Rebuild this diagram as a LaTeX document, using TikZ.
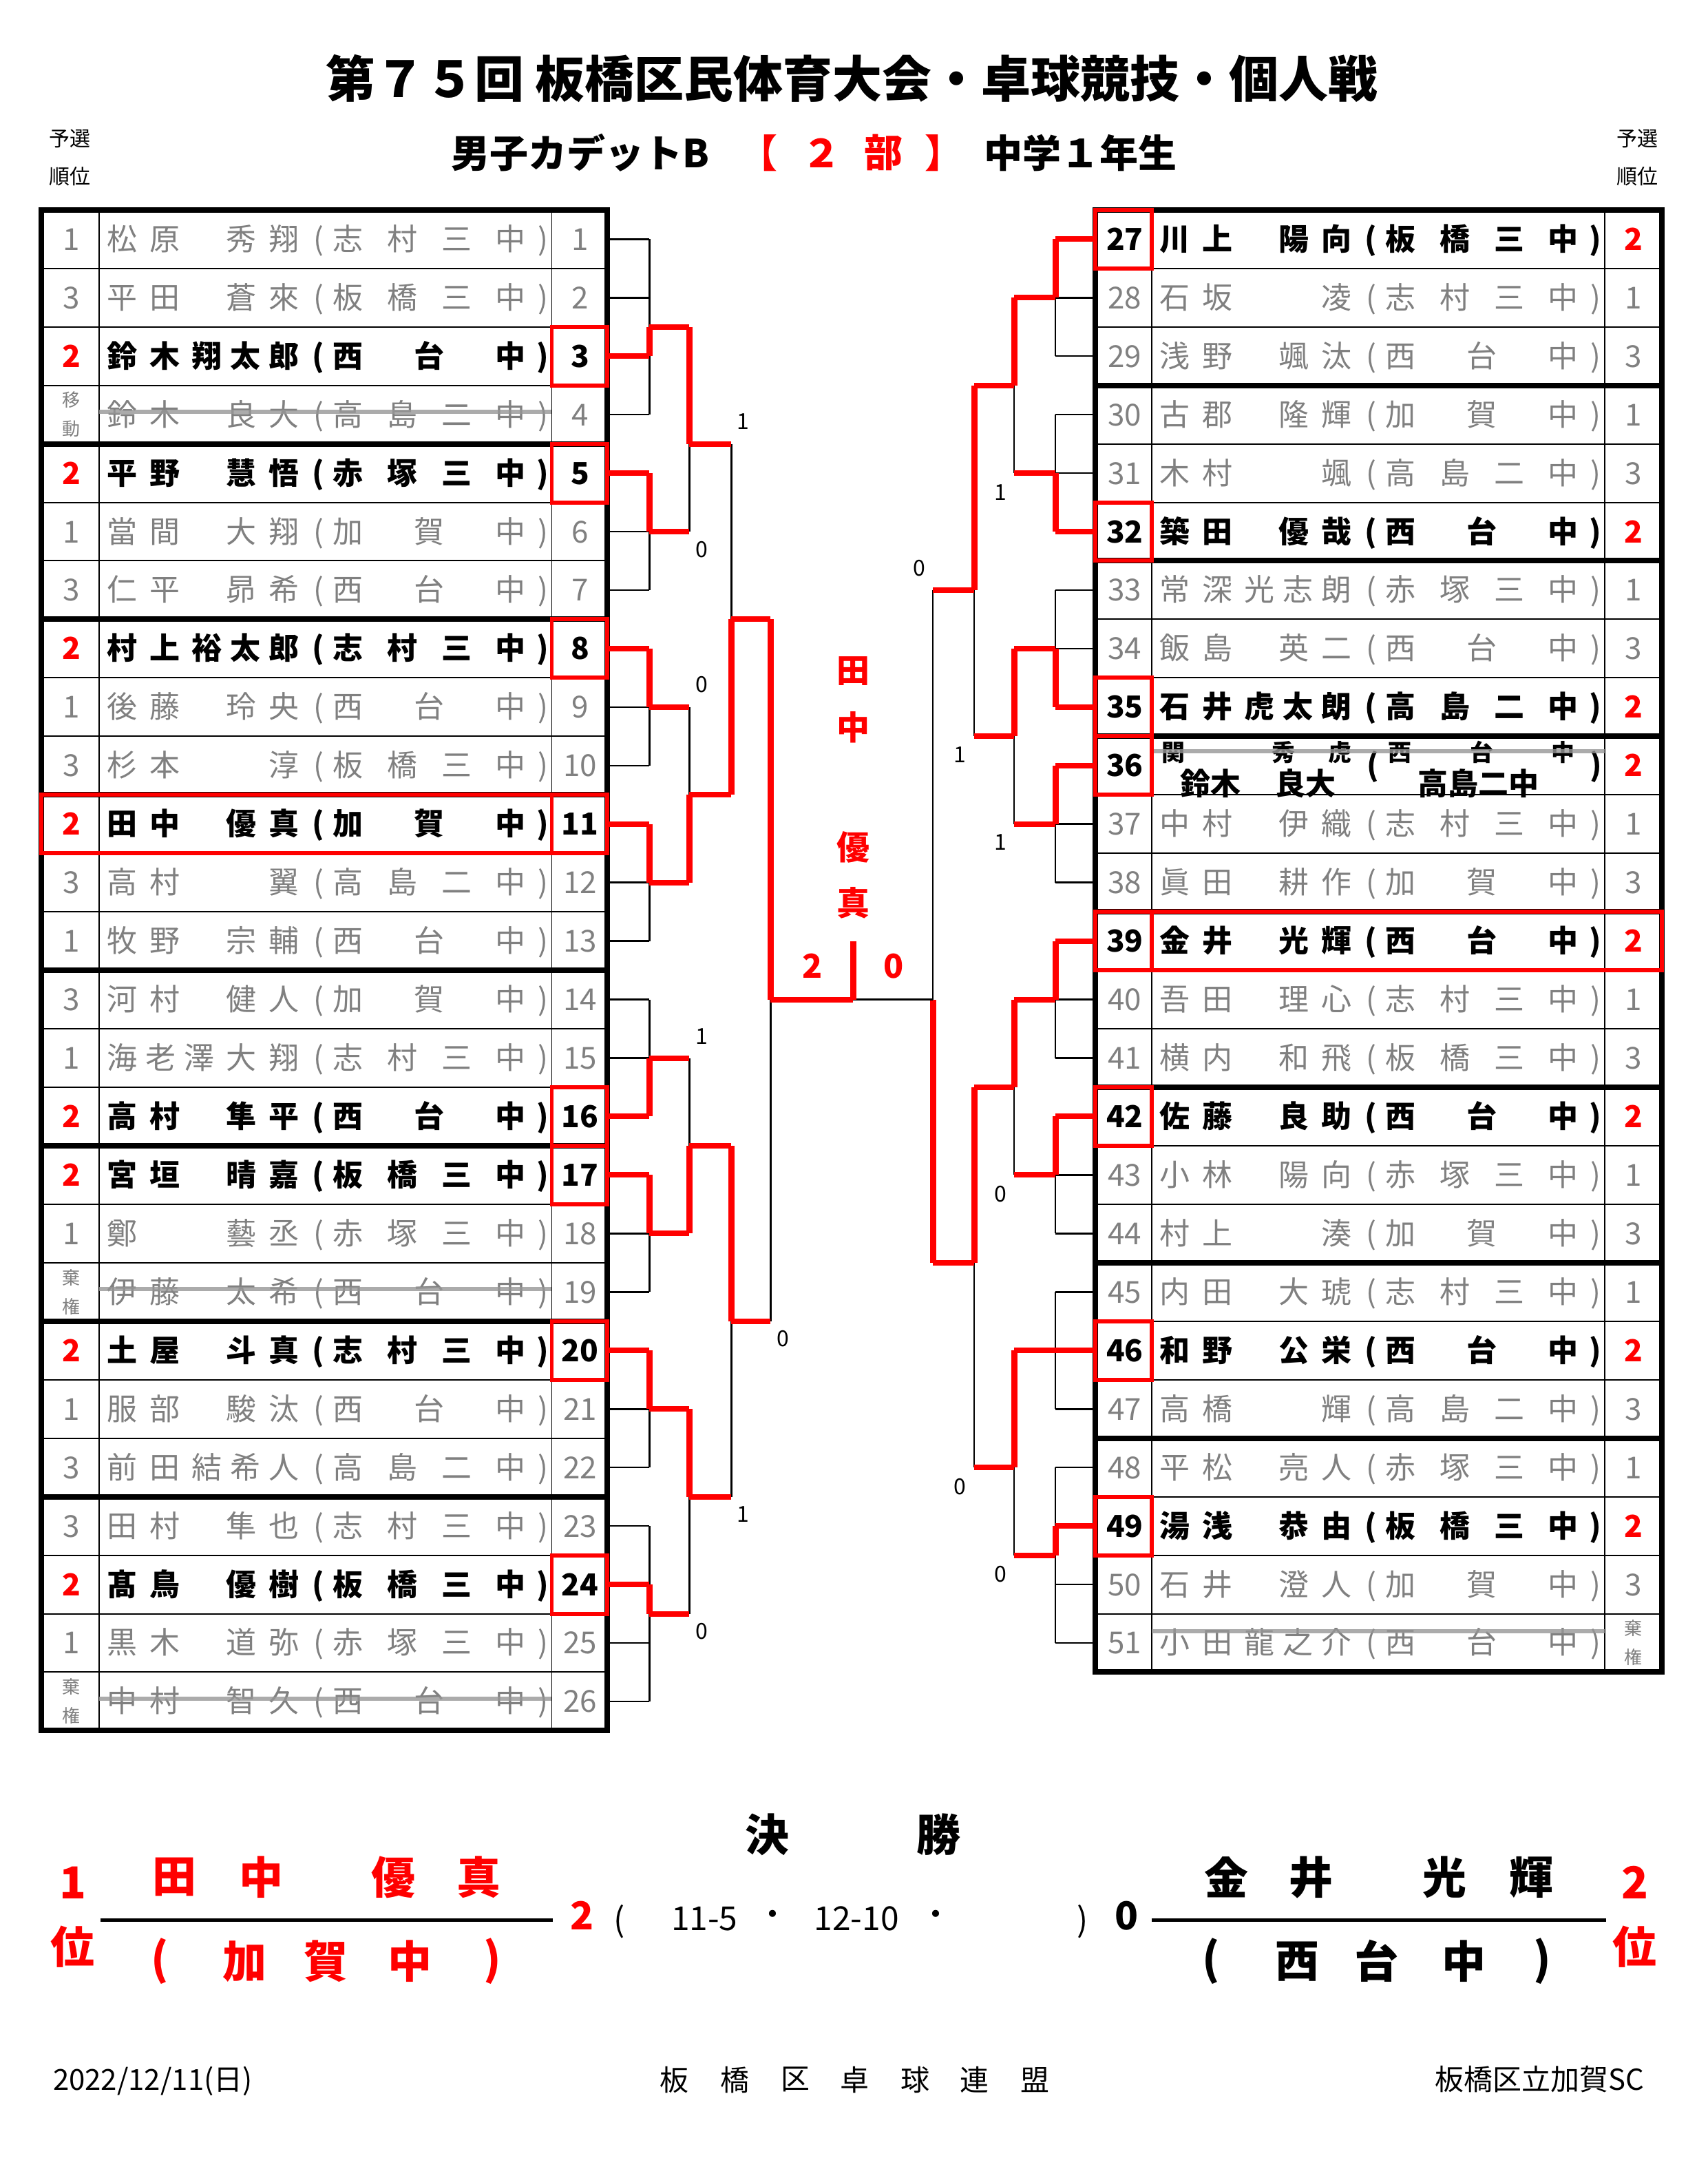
\documentclass[tikz,border=0pt]{standalone}
\usepackage{fontspec}
\newfontfamily\jp{Noto Sans CJK JP}
\definecolor{gtext}{RGB}{128,128,128}
\definecolor{strk}{RGB}{150,150,150}

% spread the characters of a name over fixed cells
\newlength\chw
\newcount\nch
\def\cntloop#1{\ifx#1\relax\else\advance\nch by 1 \expandafter\cntloop\fi}
\def\spr#1{\ifx#1\relax\else\makebox[\chw]{#1}\expandafter\spr\fi}
\def\schtwo#1#2{\makebox[\chw]{#1}\kern.5\chw\makebox[\chw]{#2}}
\newcommand\setchw[1]{\nch=0 \expandafter\cntloop#1\relax
  \ifnum\nch>2 \chw=28pt\else\chw=31pt\fi}
\newcommand\schl[1]{\nch=0 \expandafter\cntloop#1\relax\chw=39.5pt\kern-.5\chw
  \ifnum\nch=3 \expandafter\spr#1\relax\else\expandafter\schtwo#1\fi}
% one entry: name column x, row k, style, surname, given name, school, id
\newcommand\prow[7]{%
  \node[#3,anchor=west] (#7-s) at (#1+16.7,#2) {\setchw{#4}\kern-.5\chw\expandafter\spr#4\relax};
  \node[#3,anchor=east] (#7-g) at (#1+134.6,#2) {\setchw{#5}\expandafter\spr#5\relax\kern-.5\chw};
  \node[#3] (#7-o) at (#1+159.5,#2) {(};
  \node[#3,anchor=west] (#7-c) at (#1+180.6,#2) {\schl{#6}};
  \node[#3] (#7-m) at (#1+299,#2) {中};
  \node[#3] (#7-p) at (#1+322.5,#2) {)};
}

\tikzset{
  gtxt/.style={inner sep=0pt, text=gtext, font=\jp\fontsize{22}{22}\selectfont, text height=18pt, text depth=2pt},
  btxt/.style={gtxt, text=black, font=\jp\bfseries\fontsize{22}{22}\selectfont},
  rtxt/.style={btxt, text=red},
  bsm/.style={btxt, font=\jp\bfseries\fontsize{17}{17}\selectfont, text height=15pt, text depth=2pt},
  stxt/.style={inner sep=0pt, text=gtext, font=\jp\fontsize{13}{21}\selectfont, align=center},
  sctxt/.style={inner sep=0pt, font=\jp\fontsize{16}{16}\selectfont},
  ctxt/.style={inner sep=0pt, text=red, font=\jp\bfseries\fontsize{24}{24}\selectfont},
  thinln/.style={line width=1pt},
  thickln/.style={line width=4pt},
  bk/.style={line width=1.3pt},
  rh/.style={red, line width=4pt, line cap=square},
  rv/.style={red, line width=4.5pt, line cap=square},
  redbox/.style={draw=red, line width=3pt},
  strikeln/.style={strk, line width=3pt, opacity=.8},
  ttl/.style={inner sep=0pt, font=\jp\bfseries\fontsize{36}{36}\selectfont},
  subt/.style={inner sep=0pt, font=\jp\bfseries\fontsize{28}{28}\selectfont},
  hd/.style={inner sep=0pt, font=\jp\fontsize{15}{15}\selectfont},
  fin/.style={inner sep=0pt, font=\jp\bfseries\fontsize{32}{32}\selectfont},
  rfin/.style={fin, text=red},
  sfin/.style={inner sep=0pt, font=\jp\fontsize{24}{24}\selectfont},
  foot/.style={inner sep=0pt, font=\jp\fontsize{21}{21}\selectfont}
}

\begin{document}
\begin{tikzpicture}[x=1pt,y=-1pt]
\fill[white] (0,0) rectangle (1241,1568);

% heading
\node[ttl] (title) at (619,57) {第７５回 板橋区民体育大会・卓球競技・個人戦};
\node[subt,anchor=west] (subL) at (328,111) {男子カデットB};
\foreach \x/\c [count=\j] in {551/【,597/２,642/部,686/】}
  \node[subt,text=red] (subR\j) at (\x,111) {\c};
\node[subt,anchor=west] (subG) at (715,111) {中学１年生};
\node[hd] (yl1) at (51,101) {予選};
\node[hd] (yl2) at (51,128) {順位};
\node[hd] (yr1) at (1190,101) {予選};
\node[hd] (yr2) at (1190,128) {順位};

\begin{scope}[shift={(0,152.5)},y=-21.25pt]
% left table
\foreach \k in {2,4,...,50} \draw[thinln] (30,\k) -- (441.5,\k);
\draw[thinln] (72,0) -- (72,52) (401,0) -- (401,52);
\foreach \k in {8,14,20,26,32,38,44} \draw[thickln] (30,\k) -- (441.5,\k);
\draw[thickln] (30,0) rectangle (441.5,52);
% right table
\foreach \k in {2,4,...,48} \draw[thinln] (796,\k) -- (1208,\k);
\draw[thinln] (837,0) -- (837,50) (1166,0) -- (1166,50);
\foreach \k in {6,12,18,24,30,36,42} \draw[thickln] (796,\k) -- (1208,\k);
\draw[thickln] (796,0) rectangle (1208,50);

% left entries
\foreach \i/\rk/\rs/\su/\gi/\sch/\sty in {
  1/1/gtxt/松原/秀翔/志村三/gtxt,
  2/3/gtxt/平田/蒼來/板橋三/gtxt,
  3/2/rtxt/鈴木/翔太郎/西台/btxt,
  4/移\\動/stxt/鈴木/良大/高島二/gtxt,
  5/2/rtxt/平野/慧悟/赤塚三/btxt,
  6/1/gtxt/當間/大翔/加賀/gtxt,
  7/3/gtxt/仁平/昴希/西台/gtxt,
  8/2/rtxt/村上/裕太郎/志村三/btxt,
  9/1/gtxt/後藤/玲央/西台/gtxt,
  10/3/gtxt/杉本/淳/板橋三/gtxt,
  11/2/rtxt/田中/優真/加賀/btxt,
  12/3/gtxt/高村/翼/高島二/gtxt,
  13/1/gtxt/牧野/宗輔/西台/gtxt,
  14/3/gtxt/河村/健人/加賀/gtxt,
  15/1/gtxt/海老澤/大翔/志村三/gtxt,
  16/2/rtxt/高村/隼平/西台/btxt,
  17/2/rtxt/宮垣/晴嘉/板橋三/btxt,
  18/1/gtxt/鄭/藝丞/赤塚三/gtxt,
  19/棄\\権/stxt/伊藤/太希/西台/gtxt,
  20/2/rtxt/土屋/斗真/志村三/btxt,
  21/1/gtxt/服部/駿汰/西台/gtxt,
  22/3/gtxt/前田/結希人/高島二/gtxt,
  23/3/gtxt/田村/隼也/志村三/gtxt,
  24/2/rtxt/髙鳥/優樹/板橋三/btxt,
  25/1/gtxt/黒木/道弥/赤塚三/gtxt,
  26/棄\\権/stxt/中村/智久/西台/gtxt}{
  \prow{72}{2*\i-1}{\sty}{\su}{\gi}{\sch}{l\i}
  \node[\sty] (l\i-no) at (421.5,2*\i-1) {\i};
  \node[\rs] (l\i-rk) at (52,2*\i-1) {\rk};
}

% right entries
\foreach \n/\su/\gi/\sch/\sty/\rk/\rs in {
  27/川上/陽向/板橋三/btxt/2/rtxt,
  28/石坂/凌/志村三/gtxt/1/gtxt,
  29/浅野/颯汰/西台/gtxt/3/gtxt,
  30/古郡/隆輝/加賀/gtxt/1/gtxt,
  31/木村/颯/高島二/gtxt/3/gtxt,
  32/築田/優哉/西台/btxt/2/rtxt,
  33/常深/光志朗/赤塚三/gtxt/1/gtxt,
  34/飯島/英二/西台/gtxt/3/gtxt,
  35/石井/虎太朗/高島二/btxt/2/rtxt,
  37/中村/伊織/志村三/gtxt/1/gtxt,
  38/眞田/耕作/加賀/gtxt/3/gtxt,
  39/金井/光輝/西台/btxt/2/rtxt,
  40/吾田/理心/志村三/gtxt/1/gtxt,
  41/横内/和飛/板橋三/gtxt/3/gtxt,
  42/佐藤/良助/西台/btxt/2/rtxt,
  43/小林/陽向/赤塚三/gtxt/1/gtxt,
  44/村上/湊/加賀/gtxt/3/gtxt,
  45/内田/大琥/志村三/gtxt/1/gtxt,
  46/和野/公栄/西台/btxt/2/rtxt,
  47/高橋/輝/高島二/gtxt/3/gtxt,
  48/平松/亮人/赤塚三/gtxt/1/gtxt,
  49/湯浅/恭由/板橋三/btxt/2/rtxt,
  50/石井/澄人/加賀/gtxt/3/gtxt,
  51/小田/龍之介/西台/gtxt/棄\\権/stxt}{
  \prow{837}{2*\n-53}{\sty}{\su}{\gi}{\sch}{r\n}
  \node[\sty] (r\n-no) at (817.5,2*\n-53) {\n};
  \node[\rs] (r\n-rk) at (1187,2*\n-53) {\rk};
}

% entry 36, written over
\node[btxt] (r36-no) at (817.5,19) {36};
\node[rtxt] (r36-rk) at (1187,19) {2};
\foreach \x/\c [count=\j] in {853/関,933/秀,974/虎,1017.6/西,1077/台,1136/中}
  \node[bsm] (r36-t\j) at (\x,18.55) {\c};
\node[btxt] (r36-o) at (997.6,19) {(};
\node[btxt] (r36-p) at (1160,19) {)};
\draw[strikeln] (837,18.5) -- (1166,18.5);
\node[btxt] (r36-a) at (880,19.62) {鈴木};
\node[btxt] (r36-b) at (949,19.62) {良大};
\node[btxt] (r36-c) at (1074.5,19.62) {高島二中};

% struck entries
\foreach \k in {7,37,51} \draw[strikeln] (72,\k-0.1) -- (401,\k-0.1);
\draw[strikeln] (837,48.6) -- (1166,48.6);

% red boxes
\foreach \i in {3,5,8,16,17,20,24} \draw[redbox] (401,2*\i-2) rectangle (441.5,2*\i);
\draw[redbox] (30,20) rectangle (441.5,22) (401,20) -- (401,22);
\foreach \m in {1,6,9,10,16,20,23} \draw[redbox] (796,2*\m-2) rectangle (837,2*\m);
\draw[redbox] (796,24) rectangle (1208,26) (837,24) -- (837,26);

% left bracket
\foreach \k in {1,3,...,51} \draw[bk] (443,\k) -- (472,\k);
\foreach \a/\b in {1/7,9/13,15/19,21/25,27/31,33/37,39/43,45/51} \draw[bk] (472,\a) -- (472,\b);
\foreach \x/\a/\b in {501/4/11,501/17/23,501/29/35,501/41/48,531.5/8/20,531.5/32/44,560/14/38}
  \draw[bk] (\x,\a) -- (\x,\b);
\foreach \w/\m in {5/4,9/11,15/17,21/23,31/29,33/35,39/41,47/48}{
  \draw[rh] (443,\w) -- (472,\w);
  \draw[rv] (472,\w) -- (472,\m);
  \draw[rh] (472,\m) -- (501,\m);
}
\foreach \x/\w/\m/\nx in {501/4/8/531.5,501/23/20/531.5,501/35/32/531.5,501/41/44/531.5,
  531.5/20/14/560,531.5/32/38/560,560/14/27/620}{
  \draw[rv] (\x,\w) -- (\x,\m);
  \draw[rh] (\x,\m) -- (\nx,\m);
}

% right bracket
\foreach \k in {1,3,...,49} \draw[bk] (796,\k) -- (767,\k);
\foreach \a/\b in {1/5,7/11,13/17,19/23,25/29,31/35,37/41,43/49} \draw[bk] (767,\a) -- (767,\b);
\foreach \x/\a/\b in {737/3/9,737/15/21,737/27/33,737/39/46,708/6/18,708/30/43,678/13/36}
  \draw[bk] (\x,\a) -- (\x,\b);
\foreach \w/\m in {1/3,11/9,17/15,19/21,25/27,31/33,39/39,45/46}{
  \draw[rh] (796,\w) -- (767,\w);
  \draw[rv] (767,\w) -- (767,\m);
  \draw[rh] (767,\m) -- (737,\m);
}
\foreach \x/\w/\m/\nx in {737/3/6/708,737/15/18/708,737/27/30/708,737/39/43/708,
  708/6/13/678,708/30/36/678}{
  \draw[rv] (\x,\w) -- (\x,\m);
  \draw[rh] (\x,\m) -- (\nx,\m);
}
\draw[rv] (678,36) -- (678,27);

% final
\draw[bk] (620,27) -- (678,27);
\draw[rv] (620,25) -- (620,27);
\foreach \c/\k [count=\j] in {田/15.76,中/17.7,優/21.8,真/23.7} \node[ctxt] (champ\j) at (620,\k) {\c};
\node[ctxt] (fsL) at (590.5,25.86) {2};
\node[ctxt] (fsR) at (649.4,25.86) {0};

% game counts of the losers
\foreach \x/\k/\s [count=\j] in {540.2/7.23/1,510.2/11.62/0,510.2/16.24/0,510.2/28.25/1,569.2/38.6/0,
  540.2/44.6/1,510.2/48.6/0,668.3/12.24/0,727.3/9.65/1,697.8/18.62/1,727.3/21.62/1,
  727.3/33.64/0,697.8/43.65/0,727.3/46.65/0}
  \node[sctxt] (sc\j) at (\x,\k) {\s};
\end{scope}

% final result
\node[fin] (ket1) at (557.7,1333) {決};
\node[fin] (ket2) at (682,1333) {勝};
\node[rfin] (pl1a) at (53,1368) {1};
\node[rfin] (pl1b) at (53,1414.5) {位};
\foreach \x/\c [count=\j] in {126.6/田,190/中,286/優,348/真} \node[rfin] (wn\j) at (\x,1364) {\c};
\foreach \x/\c [count=\j] in {116/(,178/加,237/賀,298/中,358/)} \node[rfin] (ws\j) at (\x,1425) {\c};
\draw[line width=2.5pt] (73,1395) -- (402,1395);
\node[rfin,font=\jp\bfseries\fontsize{28}{28}\selectfont] (gL) at (423,1392) {2};
\node[sfin] (gp1) at (450,1396) {(};
\node[sfin] (gs1) at (512,1394) {11-5};
\node[sfin] (gd1) at (561.6,1394) {・};
\node[sfin] (gs2) at (622.5,1394) {12-10};
\node[sfin] (gd2) at (680,1394) {・};
\node[sfin] (gp2) at (787,1396) {)};
\node[fin,font=\jp\bfseries\fontsize{28}{28}\selectfont] (gR) at (819,1392) {0};
\draw[line width=2.5pt] (837,1395) -- (1167,1395);
\foreach \x/\c [count=\j] in {891.5/金,953/井,1050/光,1113/輝} \node[fin] (rn\j) at (\x,1364) {\c};
\foreach \x/\c [count=\j] in {880/(,943/西,1000.6/台,1064/中,1121/)} \node[fin] (rs\j) at (\x,1425) {\c};
\node[rfin] (pl2a) at (1188,1368) {2};
\node[rfin] (pl2b) at (1188,1414.5) {位};

% footer
\node[foot] (date) at (111,1512) {2022/12/11(日)};
\foreach \x/\c [count=\j] in {490/板,534/橋,578/区,621/卓,665/球,708/連,752/盟}
  \node[foot] (ren\j) at (\x,1511) {\c};
\node[foot] (club) at (1119,1511) {板橋区立加賀SC};
\end{tikzpicture}
\end{document}
